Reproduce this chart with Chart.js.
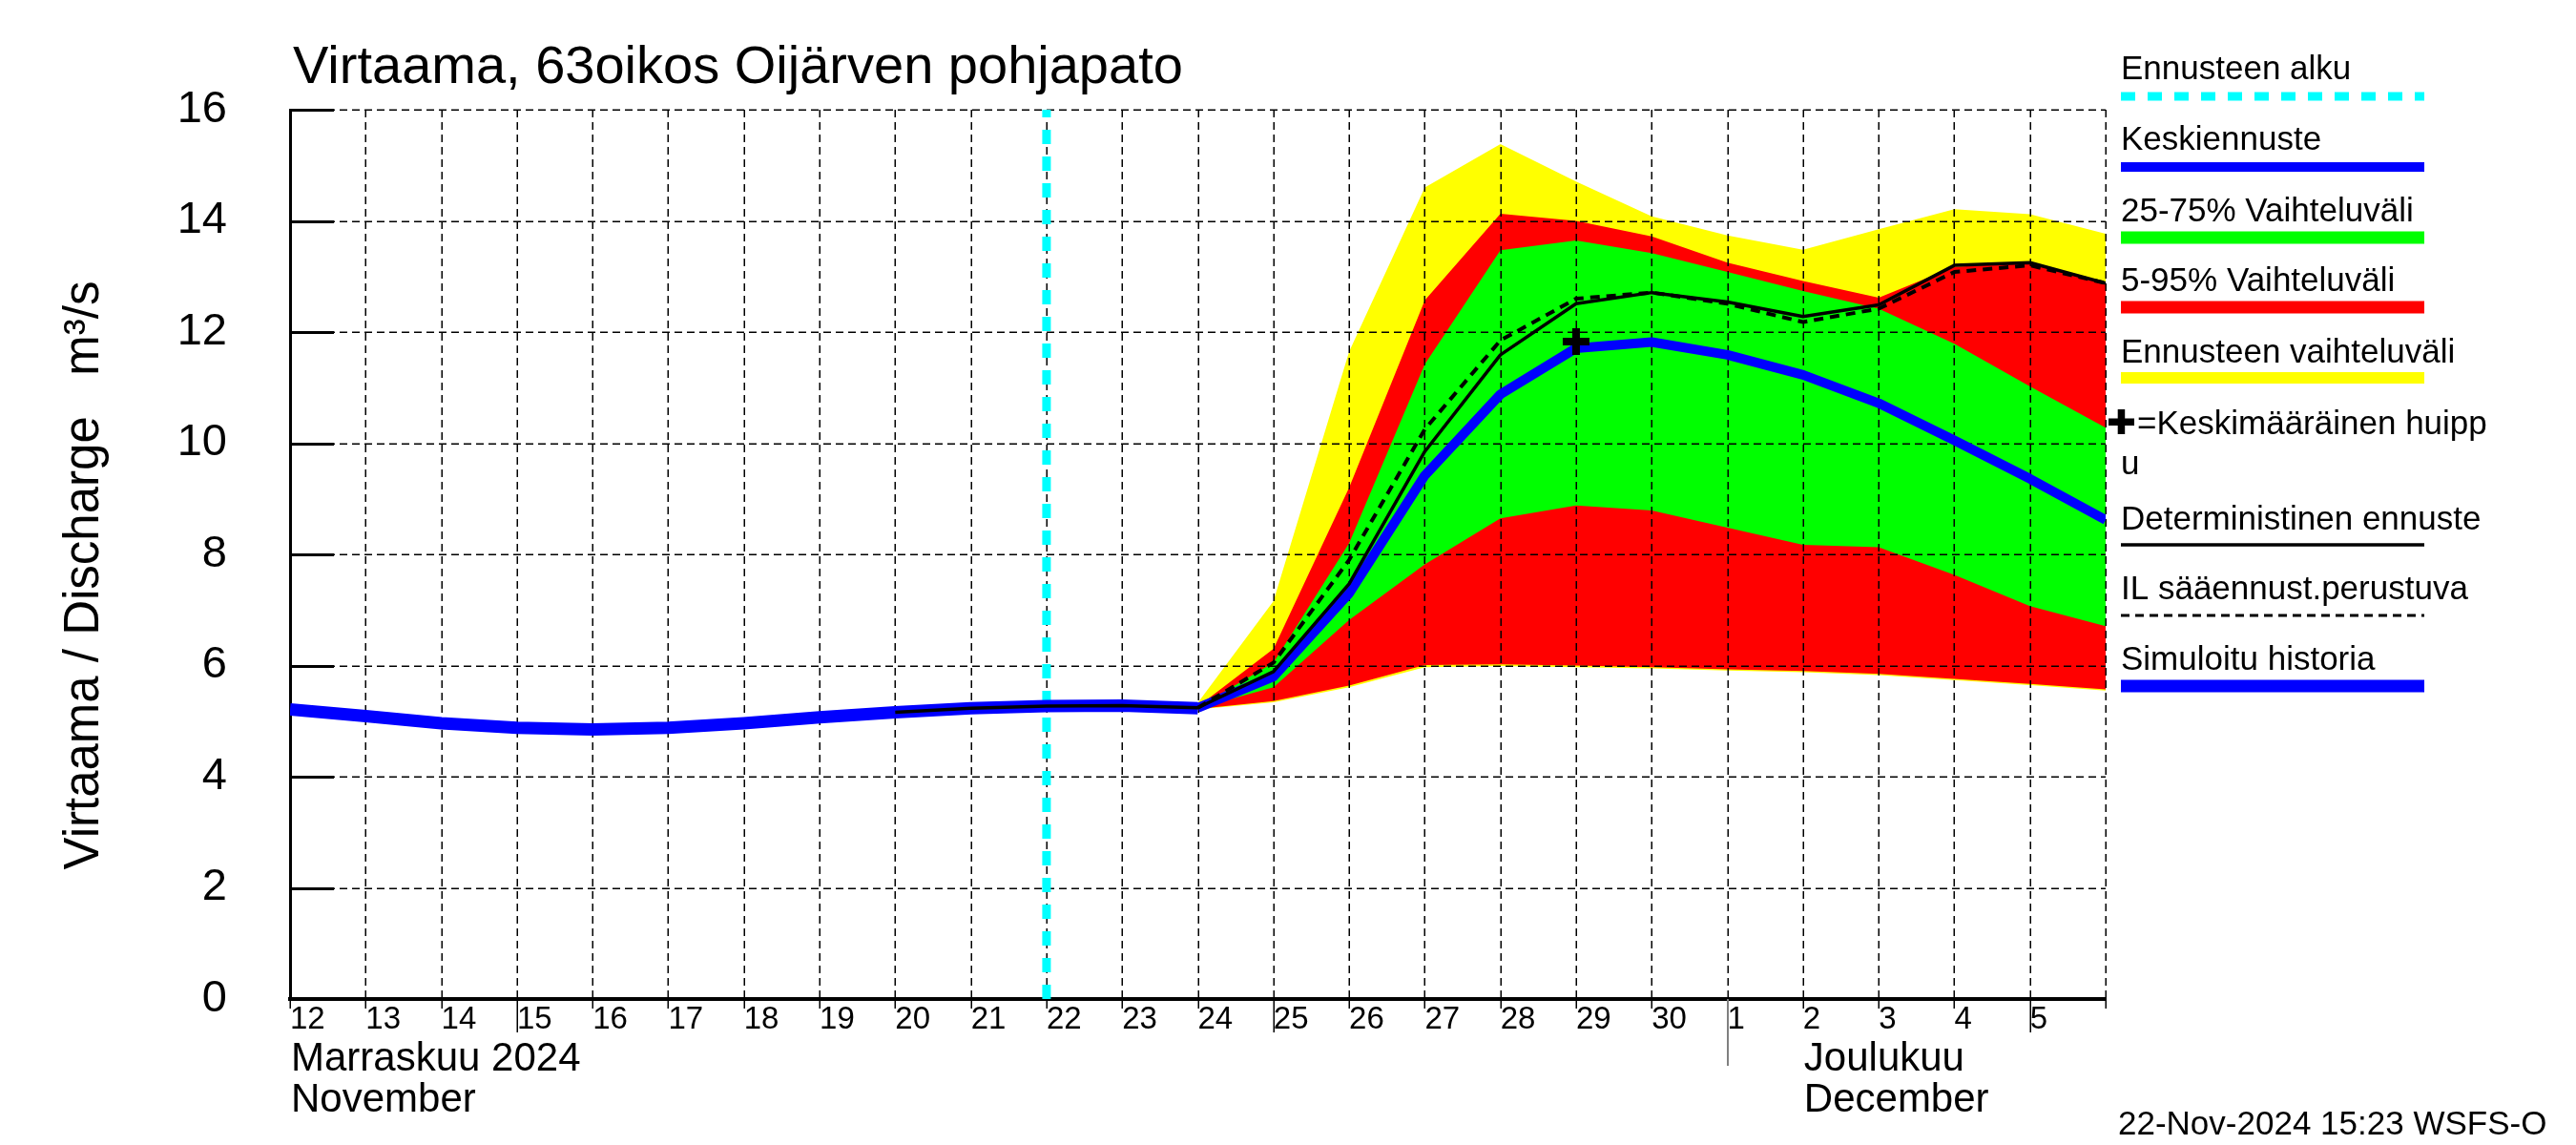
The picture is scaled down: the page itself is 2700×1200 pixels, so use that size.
<!DOCTYPE html>
<html>
<head>
<meta charset="utf-8">
<script src="https://cdn.jsdelivr.net/npm/chart.js@4.4.1/dist/chart.umd.min.js"></script>
<style>
html,body{margin:0;padding:0;background:#ffffff;}
canvas{display:block;}
</style>
</head>
<body>
<canvas id="chart" width="2700" height="1200" style="width:2700px;height:1200px"></canvas>
<script>
// ---------------- DATA ----------------
const startDate = '2024-11-12';
const endDate = '2024-12-06';
const dayTickLabels = ['12','13','14','15','16','17','18','19','20','21','22','23','24','25','26','27','28','29','30','1','2','3','4','5',''];
const yTickLabels = ['0','2','4','6','8','10','12','14','16'];

const historyDates = ['2024-11-12','2024-11-13','2024-11-14','2024-11-15','2024-11-16','2024-11-17','2024-11-18','2024-11-19','2024-11-20','2024-11-21','2024-11-22','2024-11-23','2024-11-24'];
const historyValues = [5.21, 5.09, 4.96, 4.88, 4.85, 4.88, 4.96, 5.07, 5.16, 5.23, 5.27, 5.28, 5.23];

const forecastDates = ['2024-11-24','2024-11-25','2024-11-26','2024-11-27','2024-11-28','2024-11-29','2024-11-30','2024-12-01','2024-12-02','2024-12-03','2024-12-04','2024-12-05','2024-12-06'];
const maxValues  = [5.33, 7.16, 11.65, 14.60, 15.38, 14.71, 14.08, 13.74, 13.48, 13.85, 14.21, 14.12, 13.77];
const p95Values  = [5.26, 6.30, 9.20, 12.57, 14.13, 14.00, 13.72, 13.25, 12.92, 12.62, 13.17, 13.25, 12.88];
const p75Values  = [5.25, 6.05, 8.20, 11.42, 13.47, 13.65, 13.42, 13.08, 12.74, 12.42, 11.79, 11.02, 10.28];
const p25Values  = [5.23, 5.61, 6.82, 7.82, 8.65, 8.88, 8.79, 8.48, 8.17, 8.13, 7.63, 7.07, 6.71];
const p5Values   = [5.22, 5.36, 5.64, 6.01, 6.02, 6.00, 5.97, 5.93, 5.90, 5.85, 5.76, 5.67, 5.57];
const minValues  = [5.21, 5.34, 5.61, 5.97, 5.99, 5.97, 5.95, 5.91, 5.88, 5.83, 5.74, 5.65, 5.55];
const meanValues = [5.24, 5.80, 7.30, 9.42, 10.88, 11.71, 11.82, 11.59, 11.23, 10.72, 10.05, 9.36, 8.62];
const ilValues   = [5.24, 6.05, 7.90, 10.25, 11.85, 12.60, 12.71, 12.51, 12.18, 12.42, 13.08, 13.20, 12.88];

const deterministicDates = ['2024-11-20','2024-11-21','2024-11-22','2024-11-23','2024-11-24','2024-11-25','2024-11-26','2024-11-27','2024-11-28','2024-11-29','2024-11-30','2024-12-01','2024-12-02','2024-12-03','2024-12-04','2024-12-05','2024-12-06'];
const deterministicValues = [5.16, 5.23, 5.27, 5.28, 5.24, 5.89, 7.47, 9.85, 11.59, 12.51, 12.71, 12.54, 12.28, 12.49, 13.20, 13.25, 12.88];

const peakDates = ['2024-11-29'];
const peakValues = [11.83];

const forecastStartDate = '2024-11-22';
const forecastStartRange = [0, 16];

const longTickDays = ['2024-11-15','2024-11-25','2024-12-05'];
const monthStartDate = '2024-12-01';
const monthLabels = [
  {date: '2024-11-12', lines: ['Marraskuu 2024', 'November']},
  {date: '2024-12-02', lines: ['Joulukuu', 'December']}
];

const titleText = 'Virtaama, 63oikos Oijärven pohjapato';
const yTitleText = 'Virtaama / Discharge   m³/s';
const stampText = '22-Nov-2024 15:23 WSFS-O';

// ---------------- HELPERS ----------------
const FONT = '"Liberation Sans", Arial, Helvetica, sans-serif';
function dayIndex(d) {
  const p = d.split('-').map(Number);
  const s = startDate.split('-').map(Number);
  return (Date.UTC(p[0], p[1]-1, p[2]) - Date.UTC(s[0], s[1]-1, s[2])) / 86400000;
}
function pts(dates, vals) { return dates.map((d, i) => ({x: dayIndex(d), y: vals[i]})); }

const NONE = 'rgba(0,0,0,0)';
const GRID_AFTER_INDEX = 5;

const legendItems = [
  {text: 'Ennusteen alku', base: 83, lineY: 101, color: '#00ffff', width: 9, dash: [15, 13]},
  {text: 'Keskiennuste', base: 157, lineY: 175, color: '#0000ff', width: 10, dash: []},
  {text: '25-75% Vaihteluväli', base: 232, lineY: 249, color: '#00ff00', width: 13, dash: []},
  {text: '5-95% Vaihteluväli', base: 305, lineY: 322, color: '#ff0000', width: 13, dash: []},
  {text: 'Ennusteen vaihteluväli', base: 380, lineY: 396, color: '#ffff00', width: 12, dash: []},
  {text: 'Deterministinen ennuste', base: 555, lineY: 571, color: '#000000', width: 3.5, dash: []},
  {text: 'IL sääennust.perustuva', base: 628, lineY: 645, color: '#000000', width: 3, dash: [9, 6]},
  {text: 'Simuloitu historia', base: 702, lineY: 719, color: '#0000ff', width: 13, dash: []}
];

const decor = {
  id: 'decor',
  afterDatasetDraw(chart, args) {
    if (args.index !== GRID_AFTER_INDEX) return;
    const {ctx, chartArea: a, scales: {x, y}} = chart;
    ctx.save();
    ctx.strokeStyle = '#000';
    ctx.lineWidth = 1.5;
    ctx.setLineDash([8, 5]);
    x.ticks.forEach(t => {
      if (t.value === x.min) return;
      const px = Math.round(x.getPixelForValue(t.value)) + 0.25;
      ctx.beginPath(); ctx.moveTo(px, a.top); ctx.lineTo(px, a.bottom); ctx.stroke();
    });
    y.ticks.forEach(t => {
      if (t.value === y.min) return;
      const py = Math.round(y.getPixelForValue(t.value)) + 0.25;
      ctx.beginPath(); ctx.moveTo(a.left, py); ctx.lineTo(a.right, py); ctx.stroke();
    });
    ctx.restore();
  },
  afterDraw(chart) {
    const {ctx, chartArea: a, scales: {x, y}} = chart;
    ctx.save();
    // inner y ticks
    ctx.strokeStyle = '#000';
    ctx.lineWidth = 3;
    y.ticks.forEach(t => {
      const py = Math.round(y.getPixelForValue(t.value)) + 0.5;
      ctx.beginPath(); ctx.moveTo(a.left, py); ctx.lineTo(a.left + 46, py); ctx.stroke();
    });
    // x tick marks below axis
    const longs = longTickDays.map(dayIndex);
    ctx.lineWidth = 1.5;
    x.ticks.forEach(t => {
      const px = Math.round(x.getPixelForValue(t.value)) + 0.25;
      const len = longs.includes(t.value) ? 35 : 10;
      ctx.beginPath(); ctx.moveTo(px, a.bottom); ctx.lineTo(px, a.bottom + len); ctx.stroke();
    });
    // month separator
    ctx.strokeStyle = '#808080';
    ctx.lineWidth = 2;
    const mx = Math.round(x.getPixelForValue(dayIndex(monthStartDate)));
    ctx.beginPath(); ctx.moveTo(mx, a.bottom); ctx.lineTo(mx, a.bottom + 70); ctx.stroke();

    ctx.fillStyle = '#000';
    ctx.textAlign = 'left';
    ctx.textBaseline = 'alphabetic';
    // month labels
    ctx.font = `42px ${FONT}`;
    monthLabels.forEach(m => {
      const px = x.getPixelForValue(dayIndex(m.date));
      ctx.fillText(m.lines[0], px + 1, 1122);
      ctx.fillText(m.lines[1], px + 1, 1165);
    });
    // title
    ctx.font = `56px ${FONT}`;
    ctx.fillText(titleText, a.left + 3, 87);
    // timestamp
    ctx.font = `35px ${FONT}`;
    ctx.fillText(stampText, 2220, 1189);
    // y title
    ctx.save();
    ctx.translate(103, 603);
    ctx.rotate(-Math.PI / 2);
    ctx.textAlign = 'center';
    ctx.font = `51px ${FONT}`;
    ctx.fillText(yTitleText, 0, 0);
    ctx.restore();
    // legend
    const lx0 = 2223, lx1 = 2541;
    ctx.font = `35px ${FONT}`;
    legendItems.forEach(it => {
      ctx.fillStyle = '#000';
      ctx.fillText(it.text, lx0, it.base);
      ctx.strokeStyle = it.color;
      ctx.lineWidth = it.width;
      ctx.setLineDash(it.dash);
      ctx.beginPath(); ctx.moveTo(lx0, it.lineY); ctx.lineTo(lx1, it.lineY); ctx.stroke();
    });
    ctx.setLineDash([]);
    // peak legend entry
    ctx.fillStyle = '#000';
    ctx.fillRect(2210, 438.5, 27, 7.5);
    ctx.fillRect(2219.7, 429, 7.5, 26);
    ctx.fillText('=Keskimääräinen huipp', 2240, 455);
    ctx.fillText('u', 2223, 497);
    ctx.restore();
  }
};

const datasets = [
  {label: 'max', data: pts(forecastDates, maxValues), borderColor: NONE, borderWidth: 0, backgroundColor: '#ffff00', fill: '+1', order: 10},
  {label: 'min', data: pts(forecastDates, minValues), borderColor: NONE, borderWidth: 0, fill: false, order: 9},
  {label: 'p95', data: pts(forecastDates, p95Values), borderColor: NONE, borderWidth: 0, backgroundColor: '#ff0000', fill: '+1', order: 8},
  {label: 'p5', data: pts(forecastDates, p5Values), borderColor: NONE, borderWidth: 0, fill: false, order: 7},
  {label: 'p75', data: pts(forecastDates, p75Values), borderColor: NONE, borderWidth: 0, backgroundColor: '#00ff00', fill: '+1', order: 6},
  {label: 'p25', data: pts(forecastDates, p25Values), borderColor: NONE, borderWidth: 0, fill: false, order: 5},
  {label: 'Ennusteen alku', data: forecastStartRange.map(v => ({x: dayIndex(forecastStartDate), y: v})), borderColor: '#00ffff', borderWidth: 9, borderDash: [15, 13], fill: false, order: 4.5},
  {label: 'Simuloitu historia', data: pts(historyDates, historyValues), borderColor: '#0000ff', borderWidth: 13, fill: false, order: 4},
  {label: 'Keskiennuste', data: pts(forecastDates, meanValues), borderColor: '#0000ff', borderWidth: 10, fill: false, order: 3},
  {label: 'Deterministinen ennuste', data: pts(deterministicDates, deterministicValues), borderColor: '#000000', borderWidth: 3.5, fill: false, order: 2},
  {label: 'IL sääennust.perustuva', data: pts(forecastDates, ilValues), borderColor: '#000000', borderWidth: 4, borderDash: [10, 7], fill: false, order: 1},
  {label: 'Keskimääräinen huippu', data: pts(peakDates, peakValues), showLine: false, pointStyle: 'cross', pointRadius: 14, pointBorderWidth: 8, pointBorderColor: '#000', borderColor: '#000', order: 0}
];

new Chart(document.getElementById('chart'), {
  type: 'line',
  data: {datasets},
  options: {
    responsive: false,
    maintainAspectRatio: false,
    devicePixelRatio: 1,
    animation: false,
    events: [],
    elements: {
      point: {radius: 0, hoverRadius: 0},
      line: {tension: 0, borderCapStyle: 'butt', borderJoinStyle: 'round'}
    },
    layout: {padding: {left: 0, top: 115, right: 493, bottom: 0}},
    plugins: {legend: {display: false}, tooltip: {enabled: false}, title: {display: false}},
    scales: {
      x: {
        type: 'linear',
        min: dayIndex(startDate),
        max: dayIndex(endDate),
        afterFit(s) { s.height = 153; },
        grid: {display: false, drawTicks: false},
        border: {display: true, color: '#000', width: 4},
        ticks: {
          stepSize: 1, autoSkip: false, maxRotation: 0, minRotation: 0, align: 'start', padding: 5,
          color: '#000', font: {family: FONT, size: 33, lineHeight: 1},
          callback: (v, i) => dayTickLabels[i] ?? ''
        }
      },
      y: {
        type: 'linear',
        min: 0, max: 16,
        afterFit(s) { s.width = 304; },
        grid: {display: false, drawTicks: false},
        border: {display: true, color: '#000', width: 3},
        ticks: {
          stepSize: 2, padding: 66, color: '#000', font: {family: FONT, size: 47},
          callback: (v, i) => yTickLabels[i] ?? ''
        }
      }
    }
  },
  plugins: [decor]
});
</script>
</body>
</html>
